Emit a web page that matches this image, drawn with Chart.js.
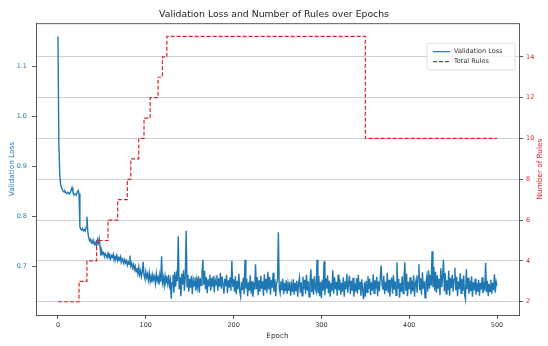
<!DOCTYPE html>
<html>
<head>
<meta charset="utf-8">
<script src="https://cdn.jsdelivr.net/npm/chart.js@4.4.1/dist/chart.umd.min.js"></script>
<style>
  html, body { margin: 0; padding: 0; background: #fff; }
  #wrap { width: 548px; height: 346px; }
</style>
</head>
<body>
<div id="wrap"><canvas id="lossChart" width="548" height="346"></canvas></div>
<script>
// validation loss, one value per epoch (0..500)
const valLoss = [
  1.160, 0.950, 0.885, 0.865, 0.858, 0.854, 0.851, 0.849, 0.851, 0.848,
  0.846, 0.849, 0.847, 0.845, 0.848, 0.853, 0.858, 0.850, 0.846, 0.844,
  0.845, 0.843, 0.849, 0.852, 0.846, 0.780, 0.775, 0.773, 0.776, 0.772,
  0.774, 0.771, 0.778, 0.800, 0.770, 0.758, 0.752, 0.755, 0.748, 0.752,
  0.746, 0.750, 0.744, 0.748, 0.742, 0.754, 0.747, 0.756, 0.740, 0.722,
  0.731, 0.725, 0.728, 0.720, 0.726, 0.723, 0.718, 0.727, 0.721, 0.724,
  0.716, 0.722, 0.719, 0.725, 0.713, 0.720, 0.717, 0.723, 0.712, 0.718,
  0.714, 0.720, 0.709, 0.716, 0.711, 0.706, 0.714, 0.708, 0.712, 0.703,
  0.710, 0.705, 0.722, 0.701, 0.707, 0.698, 0.704, 0.694, 0.701, 0.690,
  0.697, 0.686, 0.699, 0.684, 0.692, 0.680, 0.689, 0.710, 0.683, 0.676,
  0.690, 0.678, 0.685, 0.673, 0.688, 0.671, 0.681, 0.668, 0.684, 0.674,
  0.680, 0.666, 0.686, 0.672, 0.679, 0.664, 0.683, 0.670, 0.721, 0.668,
  0.678, 0.663, 0.682, 0.669, 0.676, 0.665, 0.684, 0.662, 0.673, 0.636,
  0.668, 0.684, 0.648, 0.690, 0.660, 0.683, 0.671, 0.761, 0.655, 0.679,
  0.641, 0.686, 0.664, 0.693, 0.652, 0.680, 0.772, 0.660, 0.684, 0.650,
  0.676, 0.658, 0.682, 0.645, 0.673, 0.662, 0.679, 0.652, 0.674, 0.660,
  0.681, 0.648, 0.677, 0.663, 0.686, 0.714, 0.664, 0.692, 0.655, 0.679,
  0.647, 0.675, 0.662, 0.684, 0.652, 0.678, 0.660, 0.681, 0.649, 0.674,
  0.664, 0.683, 0.652, 0.677, 0.660, 0.688, 0.656, 0.680, 0.665, 0.646,
  0.676, 0.661, 0.684, 0.647, 0.673, 0.658, 0.679, 0.652, 0.712, 0.660,
  0.675, 0.650, 0.681, 0.645, 0.672, 0.655, 0.686, 0.650, 0.640, 0.670,
  0.653, 0.678, 0.645, 0.714, 0.656, 0.676, 0.641, 0.669, 0.652, 0.683,
  0.646, 0.671, 0.640, 0.668, 0.654, 0.705, 0.655, 0.679, 0.643, 0.673,
  0.650, 0.682, 0.656, 0.671, 0.642, 0.685, 0.653, 0.676, 0.648, 0.690,
  0.655, 0.680, 0.644, 0.674, 0.658, 0.688, 0.650, 0.675, 0.641, 0.668,
  0.672, 0.769, 0.656, 0.647, 0.671, 0.653, 0.676, 0.645, 0.668, 0.651,
  0.673, 0.646, 0.666, 0.652, 0.670, 0.642, 0.664, 0.650, 0.675, 0.644,
  0.668, 0.651, 0.672, 0.640, 0.666, 0.678, 0.648, 0.669, 0.642, 0.680,
  0.655, 0.674, 0.646, 0.684, 0.652, 0.671, 0.640, 0.667, 0.695, 0.649,
  0.676, 0.644, 0.681, 0.656, 0.650, 0.714, 0.647, 0.682, 0.641, 0.670,
  0.637, 0.674, 0.652, 0.711, 0.643, 0.677, 0.656, 0.683, 0.647, 0.672,
  0.640, 0.668, 0.651, 0.693, 0.646, 0.679, 0.655, 0.670, 0.642, 0.684,
  0.653, 0.675, 0.644, 0.668, 0.650, 0.679, 0.640, 0.671, 0.655, 0.686,
  0.648, 0.668, 0.682, 0.645, 0.672, 0.652, 0.678, 0.640, 0.667, 0.650,
  0.677, 0.646, 0.684, 0.654, 0.670, 0.642, 0.675, 0.652, 0.635, 0.669,
  0.640, 0.672, 0.649, 0.681, 0.656, 0.676, 0.643, 0.669, 0.652, 0.685,
  0.647, 0.673, 0.656, 0.680, 0.641, 0.671, 0.651, 0.677, 0.703, 0.665,
  0.654, 0.682, 0.645, 0.670, 0.652, 0.688, 0.648, 0.674, 0.640, 0.666,
  0.678, 0.646, 0.683, 0.654, 0.671, 0.643, 0.709, 0.656, 0.676, 0.638,
  0.668, 0.650, 0.681, 0.647, 0.674, 0.709, 0.652, 0.686, 0.641, 0.670,
  0.655, 0.679, 0.645, 0.672, 0.651, 0.683, 0.640, 0.666, 0.675, 0.648,
  0.681, 0.705, 0.653, 0.677, 0.644, 0.689, 0.656, 0.671, 0.638, 0.668,
  0.680, 0.650, 0.693, 0.656, 0.684, 0.662, 0.731, 0.659, 0.700, 0.652,
  0.690, 0.648, 0.683, 0.656, 0.676, 0.643, 0.697, 0.659, 0.680, 0.714,
  0.651, 0.687, 0.646, 0.673, 0.653, 0.692, 0.642, 0.678, 0.657, 0.684,
  0.650, 0.675, 0.698, 0.653, 0.680, 0.641, 0.671, 0.655, 0.687, 0.647,
  0.676, 0.652, 0.683, 0.644, 0.635, 0.695, 0.655, 0.678, 0.646, 0.672,
  0.651, 0.681, 0.640, 0.669, 0.653, 0.676, 0.644, 0.667, 0.650, 0.674,
  0.642, 0.668, 0.654, 0.679, 0.647, 0.670, 0.652, 0.708, 0.649, 0.672,
  0.641, 0.666, 0.651, 0.674, 0.646, 0.668, 0.653, 0.685, 0.648, 0.670,
  0.662
];

// total rules: epoch where the count changes, and the new count
const ruleEpochs = [0, 24, 33, 44, 57, 68, 79, 83, 92, 98, 105, 114, 119, 124, 350, 500];
const ruleCounts = [2, 3, 4, 5, 6, 7, 8, 9, 10, 11, 12, 13, 14, 15, 10, 10];

const epochTicks = [0, 100, 200, 300, 400, 500];
const lossTicks = [0.7, 0.8, 0.9, 1.0, 1.1];
const lossTickLabels = ['0.7', '0.8', '0.9', '1.0', '1.1'];
const ruleTicks = [2, 4, 6, 8, 10, 12, 14];

const blue = '#1f77b4';
const red = '#d62728';
const axisColor = '#333';
const fam = 'DejaVu Sans';

const lossPoints = valLoss.map((v, i) => ({ x: i, y: v }));
const rulePoints = ruleEpochs.map((e, i) => ({ x: e, y: ruleCounts[i] }));

// top spine (matplotlib draws a full box)
const framePlugin = {
  id: 'frame',
  afterDatasetsDraw(chart) {
    const { ctx, chartArea: a } = chart;
    ctx.save();
    ctx.strokeStyle = axisColor;
    ctx.lineWidth = 0.8;
    ctx.beginPath();
    ctx.moveTo(a.left, a.top + 0.5);
    ctx.lineTo(a.right, a.top + 0.5);
    ctx.stroke();
    ctx.restore();
  }
};

// right axis title, read bottom-to-top like matplotlib's twinx label
const rightTitle = {
  id: 'rightTitle',
  afterDraw(chart) {
    const { ctx, chartArea: a } = chart;
    ctx.save();
    ctx.translate(chart.width - 8, (a.top + a.bottom) / 2);
    ctx.rotate(-Math.PI / 2);
    ctx.fillStyle = red;
    ctx.font = '7.3px "' + fam + '"';
    ctx.textAlign = 'center';
    ctx.textBaseline = 'middle';
    ctx.fillText('Number of Rules', 0, 0);
    ctx.restore();
  }
};

// legend box inside the plot, upper right
const legendBox = {
  id: 'legendBox',
  afterDraw(chart) {
    const { ctx, chartArea: a } = chart;
    const w = 88, h = 27;
    const x0 = a.right - 4 - w;
    const y0 = a.top + 20;
    ctx.save();
    ctx.fillStyle = 'rgba(255,255,255,0.8)';
    ctx.strokeStyle = '#d6d6d6';
    ctx.lineWidth = 0.8;
    ctx.beginPath();
    ctx.roundRect(x0, y0, w, h, 2);
    ctx.fill();
    ctx.stroke();
    chart.data.datasets.forEach((ds, i) => {
      const y = y0 + 8.5 + i * 10;
      ctx.strokeStyle = ds.borderColor;
      ctx.lineWidth = 1.2;
      ctx.setLineDash(ds.borderDash || []);
      ctx.beginPath();
      ctx.moveTo(x0 + 6, y);
      ctx.lineTo(x0 + 23, y);
      ctx.stroke();
      ctx.setLineDash([]);
      ctx.fillStyle = '#333';
      ctx.font = '6.5px "' + fam + '"';
      ctx.textBaseline = 'middle';
      ctx.textAlign = 'left';
      ctx.fillText(ds.label, x0 + 27, y);
    });
    ctx.restore();
  }
};

const ctx = document.getElementById('lossChart');

new Chart(ctx, {
  type: 'line',
  data: {
    datasets: [
      {
        label: 'Validation Loss',
        data: lossPoints,
        yAxisID: 'y',
        borderColor: blue,
        borderWidth: 1.4,
        pointRadius: 0,
        tension: 0,
        order: 2
      },
      {
        label: 'Total Rules',
        data: rulePoints,
        yAxisID: 'y2',
        borderColor: red,
        borderWidth: 1.2,
        borderDash: [4, 2],
        stepped: 'before',
        pointRadius: 0,
        order: 1
      }
    ]
  },
  options: {
    responsive: false,
    animation: false,
    layout: { padding: 0 },
    plugins: {
      legend: { display: false },
      tooltip: { enabled: false },
      title: {
        display: true,
        text: 'Validation Loss and Number of Rules over Epochs',
        color: '#222',
        font: { family: fam, size: 9.3, weight: 'normal' },
        padding: { top: 9, bottom: 3 }
      }
    },
    scales: {
      x: {
        type: 'linear',
        min: -25,
        max: 525,
        afterBuildTicks: (axis) => { axis.ticks = epochTicks.map(v => ({ value: v })); },
        afterFit: (axis) => { axis.height = 31; },
        grid: { drawOnChartArea: false, tickLength: 4, color: axisColor, lineWidth: 0.8 },
        border: { color: axisColor, width: 0.8 },
        ticks: { color: '#333', padding: 2, font: { family: fam, size: 6.5 }, maxRotation: 0 },
        title: {
          display: true, text: 'Epoch', color: '#333',
          font: { family: fam, size: 7.3 }, padding: { top: 0, bottom: 6 }
        }
      },
      y: {
        position: 'left',
        min: 0.6035,
        max: 1.1865,
        afterBuildTicks: (axis) => { axis.ticks = lossTicks.map(v => ({ value: v })); },
        afterFit: (axis) => { axis.width = 36; },
        grid: { drawOnChartArea: false, tickLength: 4, color: axisColor, lineWidth: 0.8 },
        border: { color: axisColor, width: 0.8 },
        ticks: {
          color: blue, padding: 5, font: { family: fam, size: 6.5 },
          callback: (v, i) => lossTickLabels[i]
        },
        title: {
          display: true, text: 'Validation Loss', color: blue,
          font: { family: fam, size: 7.3 }, padding: { top: 7.5, bottom: 0 }
        }
      },
      y2: {
        position: 'right',
        min: 1.35,
        max: 15.65,
        afterBuildTicks: (axis) => { axis.ticks = ruleTicks.map(v => ({ value: v })); },
        afterFit: (axis) => { axis.width = 29; },
        grid: {
          drawOnChartArea: true, tickLength: 4, color: '#c4c4c4',
          tickColor: axisColor, lineWidth: 0.8
        },
        border: { color: axisColor, width: 0.8 },
        ticks: { color: red, padding: 3, font: { family: fam, size: 6.5 } },
        title: { display: false }
      }
    }
  },
  plugins: [framePlugin, rightTitle, legendBox]
});
</script>
</body>
</html>
